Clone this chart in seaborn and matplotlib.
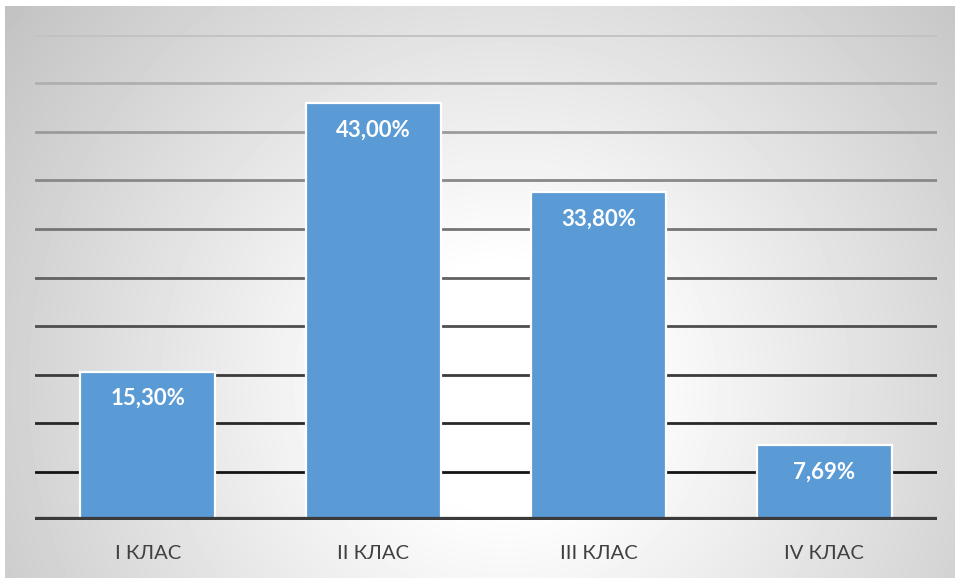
import numpy as np
import pandas as pd
import matplotlib
matplotlib.use("Agg")
import matplotlib.pyplot as plt
import seaborn as sns

# Share of students by class
categories = ["I КЛАС", "II КЛАС", "III КЛАС", "IV КЛАС"]
values = [15.30, 43.00, 33.80, 7.69]
value_labels = ["15,30%", "43,00%", "33,80%", "7,69%"]
y_ticks = [5, 10, 15, 20, 25, 30, 35, 40, 45, 50]

sns.set_theme(style="white")
plt.rcParams["font.family"] = ["Lato", "DejaVu Sans"]

W, H, DPI = 955, 578, 100
fig = plt.figure(figsize=(W / DPI, H / DPI), dpi=DPI)
fig.patch.set_facecolor("white")

# radial gradient backdrop for the chart area
bg = fig.add_axes([5 / W, 0, 950 / W, 572 / H], zorder=0)
gy, gx = np.mgrid[0:572, 0:950]
cx, cy = 500, 380
r = np.sqrt(((gx - cx) / 600.0) ** 2 + ((gy - cy) / 600.0) ** 2)
shade = np.clip(1.0 - 0.24 * np.clip(r - 0.2, 0, None) / 0.85, 0.76, 1.0)
bg.imshow(shade, cmap="gray", vmin=0, vmax=1, aspect="auto",
          interpolation="bilinear")
bg.set_axis_off()

ax = fig.add_axes([35 / W, 58 / H, 902 / W, 485 / H], zorder=1)
ax.patch.set_alpha(0)

df = pd.DataFrame({"klas": categories, "pct": values})

# gridlines darken toward the baseline
greys = np.linspace(0.08, 0.76, len(y_ticks))
for yv, g in zip(y_ticks, greys):
    ax.axhline(yv, color=(g, g, g), lw=2.0, zorder=0.5)

sns.barplot(data=df, x="klas", y="pct", color="#5B9BD5", width=0.6,
            saturation=1, edgecolor="white", linewidth=1.6, ax=ax, zorder=2)

ax.axhline(0, color="#3a3a3a", lw=4.5, zorder=3, solid_capstyle="butt")

for i, (v, lab) in enumerate(zip(values, value_labels)):
    ax.annotate(lab, xy=(i, v), xytext=(0, -27 * 72 / DPI),
                textcoords="offset points", ha="center", va="center",
                color="white", fontsize=16, fontweight="bold", zorder=4)

ax.set_xlim(-0.5, 3.5)
ax.set_ylim(0, 50)
ax.set_xlabel("")
ax.set_ylabel("")
ax.set_yticks([])
ax.tick_params(axis="x", length=0, pad=18, labelsize=14.5, labelcolor="#404040")
for s in ax.spines.values():
    s.set_visible(False)

fig.savefig("out.png", dpi=DPI, facecolor=fig.get_facecolor())
